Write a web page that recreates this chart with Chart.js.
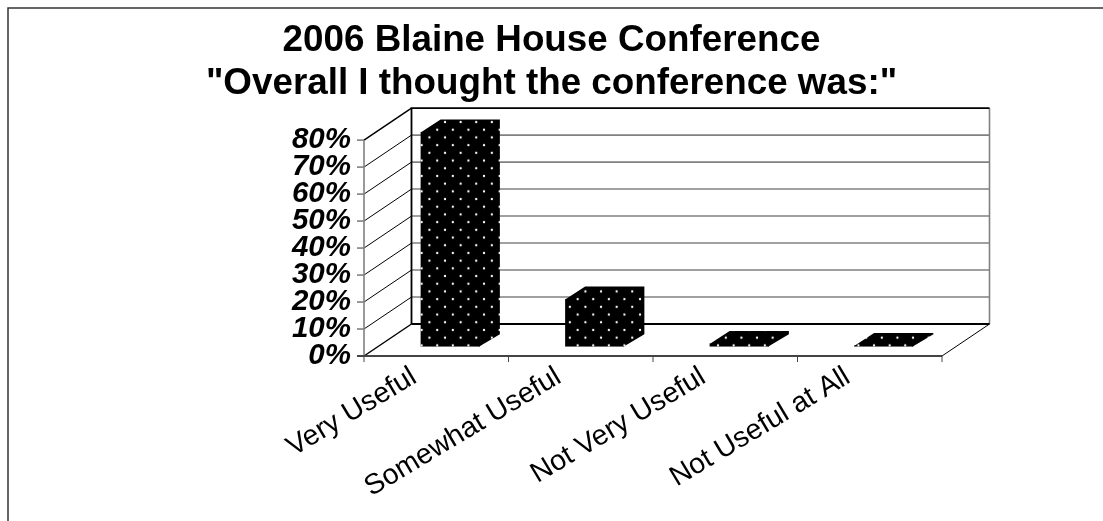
<!DOCTYPE html>
<html>
<head>
<meta charset="utf-8">
<style>
  html, body { margin: 0; padding: 0; background: #fff; }
  #wrap { position: relative; width: 1103px; height: 521px; }
</style>
<script src="https://cdn.jsdelivr.net/npm/chart.js@4"></script>
</head>
<body>
<div id="wrap"><canvas id="chart" width="1103" height="521"></canvas></div>
<script>
const titleLines = ['2006 Blaine House Conference', '"Overall I thought the conference was:"'];
const categories = ['Very Useful', 'Somewhat Useful', 'Not Very Useful', 'Not Useful at All'];
const percents = [79.6, 17.7, 1.2, 0.4];
const yTicks = [0, 10, 20, 30, 40, 50, 60, 70, 80];

// depth of the fake 3d box and of the bars in it
const wallDx = 47.5, wallDy = -32;
const barDx = 20, barDy = -12.5;
const barShiftX = 14, barShiftY = -9.3;

function dotPattern() {
  const c = document.createElement('canvas');
  c.width = 16; c.height = 16;
  const g = c.getContext('2d');
  g.fillStyle = '#000';
  g.fillRect(0, 0, 16, 16);
  g.fillStyle = '#fff';
  [[4, 4], [12, 12]].forEach(p => {
    g.beginPath();
    g.arc(p[0], p[1], 1.2, 0, Math.PI * 2);
    g.fill();
  });
  const pat = g.createPattern(c, 'repeat');
  pat.setTransform(new DOMMatrix().translate(427.1, 127.45).scale(0.975, 0.9625));
  return pat;
}
const dots = dotPattern();

const box3d = {
  id: 'box3d',
  beforeDatasetsDraw(chart) {
    const { ctx, scales: { x, y }, chartArea: a } = chart;
    ctx.save();
    // back wall grid lines
    ctx.strokeStyle = '#808080';
    ctx.lineWidth = 1.6;
    yTicks.forEach(v => {
      if (v === 0 || v === 80) return;
      ctx.beginPath();
      ctx.moveTo(a.left + wallDx, y.getPixelForValue(v) + wallDy);
      ctx.lineTo(a.right + wallDx, y.getPixelForValue(v) + wallDy);
      ctx.stroke();
    });
    ctx.beginPath();
    ctx.moveTo(a.right + wallDx, a.top + wallDy);
    ctx.lineTo(a.right + wallDx, a.bottom + wallDy);
    ctx.stroke();
    // side wall diagonals
    ctx.strokeStyle = '#000';
    ctx.lineWidth = 1;
    yTicks.forEach(v => {
      ctx.lineWidth = (v === 0 || v === 80) ? 1.5 : 1;
      ctx.beginPath();
      ctx.moveTo(a.left, y.getPixelForValue(v));
      ctx.lineTo(a.left + wallDx, y.getPixelForValue(v) + wallDy);
      ctx.stroke();
    });
    ctx.lineWidth = 1;
    ctx.beginPath();
    ctx.moveTo(a.right + wallDx, a.bottom + wallDy);
    ctx.lineTo(a.right, a.bottom);
    ctx.stroke();
    // back wall outline
    ctx.lineWidth = 1.8;
    ctx.beginPath();
    ctx.moveTo(a.left + wallDx, a.bottom + wallDy);
    ctx.lineTo(a.left + wallDx, a.top + wallDy);
    ctx.lineTo(a.right + wallDx, a.top + wallDy);
    ctx.stroke();
    // floor back edge
    ctx.beginPath();
    ctx.moveTo(a.left + wallDx, a.bottom + wallDy);
    ctx.lineTo(a.right + wallDx, a.bottom + wallDy);
    ctx.stroke();
    // front axes
    ctx.strokeStyle = '#808080';
    ctx.lineWidth = 1.6;
    ctx.beginPath();
    ctx.moveTo(a.left, a.top);
    ctx.lineTo(a.left, a.bottom);
    ctx.stroke();
    yTicks.forEach(v => {
      ctx.beginPath();
      ctx.moveTo(a.left - 7, y.getPixelForValue(v));
      ctx.lineTo(a.left, y.getPixelForValue(v));
      ctx.stroke();
    });
    ctx.strokeStyle = '#444';
    ctx.lineWidth = 1.8;
    ctx.beginPath();
    ctx.moveTo(a.left - 7, a.bottom);
    ctx.lineTo(a.right, a.bottom);
    ctx.stroke();
    ctx.lineWidth = 1;
    categories.forEach((c, i) => {
      const tx = i === categories.length - 1 ? a.right : (x.getPixelForTick(i) + x.getPixelForTick(i + 1)) / 2;
      ctx.beginPath();
      ctx.moveTo(tx, a.bottom);
      ctx.lineTo(tx, a.bottom + 6);
      ctx.stroke();
    });
    ctx.beginPath();
    ctx.moveTo(a.left, a.bottom);
    ctx.lineTo(a.left, a.bottom + 6);
    ctx.stroke();
    ctx.restore();
    // bars sit partway into the box
    ctx.save();
    ctx.translate(barShiftX, barShiftY);
  },
  afterDatasetsDraw(chart) {
    const { ctx } = chart;
    chart.getDatasetMeta(0).data.forEach(bar => {
      const l = bar.x - bar.width / 2, r = bar.x + bar.width / 2;
      // top and side faces, overlapping the front a little so no seam shows
      ctx.fillStyle = dots;
      ctx.beginPath();
      ctx.moveTo(l, bar.y + 0.5);
      ctx.lineTo(l + barDx, bar.y + barDy);
      ctx.lineTo(r + barDx, bar.y + barDy);
      ctx.lineTo(r + barDx, bar.base + barDy);
      ctx.lineTo(r - 1, bar.base);
      ctx.lineTo(r - 1, bar.y + 0.5);
      ctx.closePath();
      ctx.fill();
    });
    ctx.restore();
  },
  afterDraw(chart) {
    // outer frame of the picture
    const { ctx } = chart;
    ctx.save();
    ctx.strokeStyle = '#333';
    ctx.lineWidth = 1.5;
    ctx.beginPath();
    ctx.moveTo(8, 521);
    ctx.lineTo(8, 8);
    ctx.lineTo(1103, 8);
    ctx.stroke();
    ctx.restore();
  }
};

new Chart(document.getElementById('chart'), {
  type: 'bar',
  plugins: [box3d],
  data: {
    labels: categories,
    datasets: [{
      data: percents,
      backgroundColor: dots,
      borderWidth: 0,
      barPercentage: 0.41,
      categoryPercentage: 1
    }]
  },
  options: {
    responsive: false,
    animation: false,
    layout: { padding: { top: 8, left: 0, right: 0, bottom: 0 } },
    plugins: {
      legend: { display: false },
      tooltip: { enabled: false },
      title: {
        display: true,
        text: titleLines,
        color: '#000',
        fullSize: true,
        font: { family: '"Liberation Sans", Arial, sans-serif', size: 36.8, weight: 'bold', lineHeight: 1.17 },
        padding: { top: 11, bottom: 35 }
      }
    },
    scales: {
      x: {
        grid: { display: false },
        border: { display: false },
        afterFit(s) { s.height = 165; },
        ticks: {
          autoSkip: false,
          maxRotation: 31,
          minRotation: 31,
          color: '#000',
          padding: -4,
          labelOffset: -22,
          font: { family: '"Liberation Sans", Arial, sans-serif', size: 28.5 }
        }
      },
      y: {
        min: 0,
        max: 80,
        grid: { display: false },
        border: { display: false },
        afterFit(s) { s.width = 364; },
        afterBuildTicks(s) { s.ticks = yTicks.map(v => ({ value: v })); },
        ticks: {
          autoSkip: false,
          color: '#000',
          padding: 5,
          callback: v => v + '%',
          font: { family: '"Liberation Sans", Arial, sans-serif', size: 29.5, weight: 'bold', style: 'italic' }
        }
      },
      // empty axis, only keeps the plot clear of the right hand margin
      margin: {
        position: 'right',
        grid: { display: false },
        border: { display: false },
        ticks: { display: false },
        afterFit(s) { s.width = 161; }
      }
    }
  }
});
</script>
</body>
</html>
